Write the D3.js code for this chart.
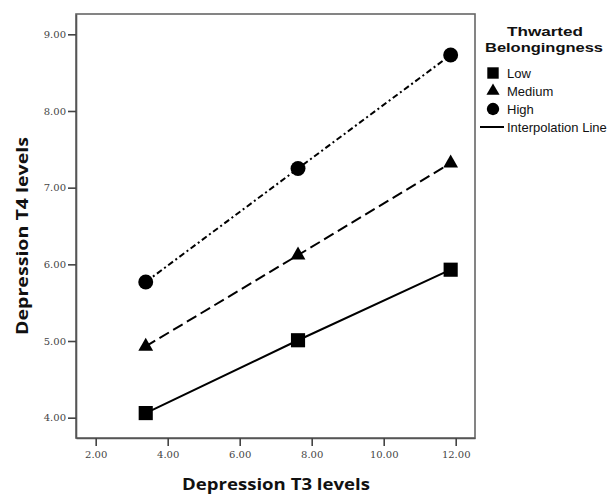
<!DOCTYPE html>
<html><head><meta charset="utf-8">
<script src="https://cdn.jsdelivr.net/npm/d3@7"></script>
<style>body{margin:0;background:#fff}svg{display:block}</style>
</head><body>
<script>
const xValues = [3.39, 7.62, 11.86];
const lowValues = [4.06, 5.01, 5.93];
const mediumValues = [4.93, 6.12, 7.32];
const highValues = [5.77, 7.25, 8.73];
const seriesNames = ["Low", "Medium", "High"];
const xTicks = [2, 4, 6, 8, 10, 12];
const yTicks = [4, 5, 6, 7, 8, 9];
const xTitle = "Depression T3 levels";
const yTitle = "Depression T4 levels";
const legendTitle = ["Thwarted", "Belongingness"];
const legendLineLabel = "Interpolation Line";

const W = 608, H = 495;
const svg = d3.select("body").append("svg").attr("width", W).attr("height", H);
const x = d3.scaleLinear().domain([1.453, 12.536]).range([76, 475]);
const y = d3.scaleLinear().domain([3.735, 9.265]).range([438, 14]);

// frame
svg.append("rect").attr("x", x.range()[0]).attr("y", y.range()[1])
  .attr("width", x.range()[1] - x.range()[0]).attr("height", y.range()[0] - y.range()[1])
  .attr("fill", "none").attr("stroke", "#666").attr("stroke-width", 1.6);

const fmt = d3.format(".2f");
const gx = svg.append("g").attr("transform", `translate(0,${y.range()[0]})`)
  .call(d3.axisBottom(x).tickValues(xTicks).tickFormat(fmt).tickSize(8).tickSizeOuter(0).tickPadding(5));
const gy = svg.append("g").attr("transform", `translate(${x.range()[0]},0)`)
  .call(d3.axisLeft(y).tickValues(yTicks).tickFormat(fmt).tickSize(8).tickSizeOuter(0).tickPadding(2));
[gx, gy].forEach(g => {
  g.select(".domain").attr("stroke", "#555").attr("stroke-width", 1.6);
  g.selectAll(".tick line").attr("stroke", "#444").attr("stroke-width", 1.6);
  g.selectAll(".tick text").attr("font-family", "DejaVu Serif").attr("font-size", 10).attr("fill", "#444");
});

// titles
svg.append("text").attr("x", 276).attr("y", 490).attr("text-anchor", "middle")
  .attr("font-family", "Open Sans").attr("font-weight", "bold").attr("font-size", 15.5)
  .attr("textLength", 188).attr("lengthAdjust", "spacingAndGlyphs").attr("fill", "#111").text(xTitle);
svg.append("text").attr("transform", "translate(28,236) rotate(-90)").attr("text-anchor", "middle")
  .attr("font-family", "Open Sans").attr("font-weight", "bold").attr("font-size", 15.5)
  .attr("textLength", 198).attr("lengthAdjust", "spacingAndGlyphs").attr("fill", "#111").text(yTitle);

const series = [
  {name: seriesNames[0], values: lowValues, dash: null, symbol: d3.symbolSquare, size: 200},
  {name: seriesNames[1], values: mediumValues, dash: "11,5", symbol: d3.symbolTriangle, size: 95},
  {name: seriesNames[2], values: highValues, dash: "6,3,2,3", symbol: d3.symbolCircle, size: 175}
];
const line = d3.line().x((d, i) => x(xValues[i])).y(d => y(d));
series.forEach(s => {
  svg.append("path").datum(s.values).attr("d", line).attr("fill", "none")
    .attr("stroke", "#000").attr("stroke-width", 2).attr("stroke-dasharray", s.dash);
  svg.selectAll(null).data(s.values).enter().append("path")
    .attr("transform", (d, i) => `translate(${x(xValues[i])},${y(d)})`)
    .attr("d", d3.symbol().type(s.symbol).size(s.size)).attr("fill", "#000");
});

// legend
const lg = svg.append("g");
lg.append("text").attr("x", 545).attr("y", 36).attr("text-anchor", "middle")
  .attr("font-family", "Liberation Sans").attr("font-weight", "bold").attr("font-size", 13.5)
  .attr("textLength", 76).attr("lengthAdjust", "spacingAndGlyphs").attr("fill", "#111").text(legendTitle[0]);
lg.append("text").attr("x", 544).attr("y", 52).attr("text-anchor", "middle")
  .attr("font-family", "Liberation Sans").attr("font-weight", "bold").attr("font-size", 13.5)
  .attr("textLength", 118).attr("lengthAdjust", "spacingAndGlyphs").attr("fill", "#111").text(legendTitle[1]);
const legendSizes = [130, 75, 120];
series.forEach((s, i) => {
  const cy = 73 + i * 18;
  lg.append("path").attr("transform", `translate(493,${cy})`)
    .attr("d", d3.symbol().type(s.symbol).size(legendSizes[i])).attr("fill", "#000");
  lg.append("text").attr("x", 507).attr("y", cy + 4.5).attr("font-family", "Liberation Sans")
    .attr("font-size", 13).attr("fill", "#111").text(s.name);
});
lg.append("line").attr("x1", 480).attr("x2", 504).attr("y1", 127).attr("y2", 127)
  .attr("stroke", "#000").attr("stroke-width", 2);
lg.append("text").attr("x", 507).attr("y", 131.5).attr("font-family", "Liberation Sans")
  .attr("font-size", 13).attr("fill", "#111").text(legendLineLabel);
</script>
</body></html>
